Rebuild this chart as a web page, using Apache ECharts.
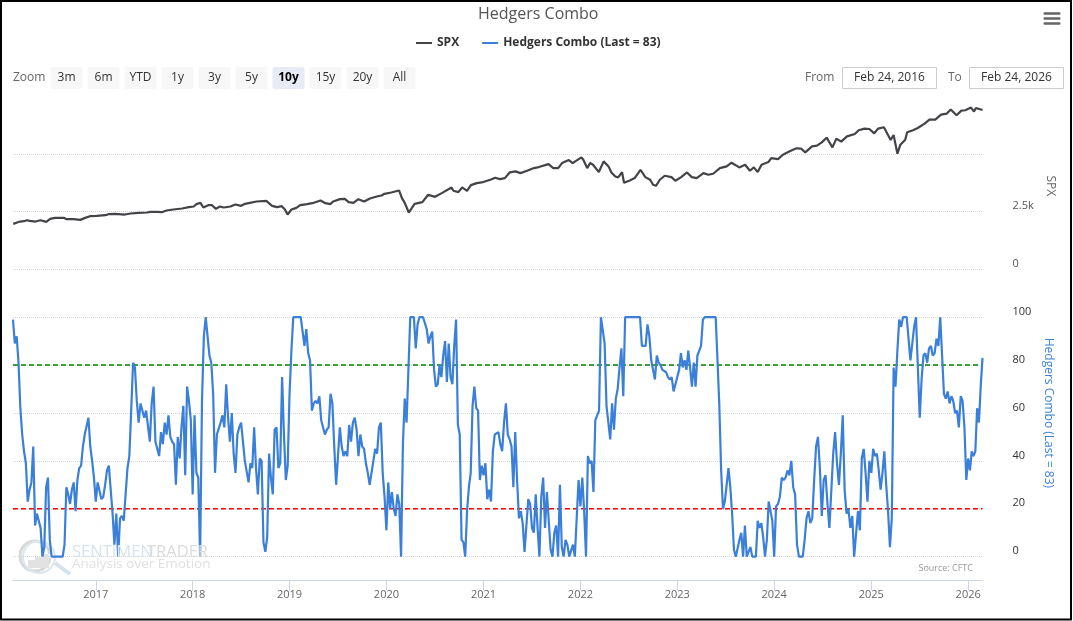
<!DOCTYPE html>
<html>
<head>
<meta charset="utf-8">
<style>html,body{margin:0;padding:0;background:#fff}#c{width:1073px;height:621px}</style>
<script src="https://cdn.jsdelivr.net/npm/echarts@6/dist/echarts.min.js"></script>
</head>
<body>
<div id="c"></div>
<script>
// ---- data ----
const chartTitle = 'Hedgers Combo';
const spxName = 'SPX';
const combo = 'Hedgers Combo (Last = 83)';
const firstDay = '2016-02-24';
const lastDay = '2026-02-24';
const yearTicks = [2017, 2018, 2019, 2020, 2021, 2022, 2023, 2024, 2025, 2026];
const comboTicks = [0, 20, 40, 60, 80, 100];
const spxGrid = [0, 2500, 5000];
const spxTicks = [0, 2500];
const upperZone = 80;
const lowerZone = 20;
const zoomButtons = ['3m', '6m', 'YTD', '1y', '3y', '5y', '10y', '15y', '20y', 'All'];

// weekly Hedgers Combo readings, one list per calendar year
const h2016 = [99,89,92,81,62,51,44,39,23,28,31,46,13,18,18,12,0,4,29,33,7,0,0,0,0,0,0,0,5,29,26,22,28,31,19,32,37,38,46,51,51,58,46,40,33];
const h2017 = [23,31,31,24,25,30,36,38,28,18,5,18,0,16,17,15,15,37,42,61,81,79,65,56,64,64,58,61,61,48,64,71,48,48,42,52,47,56,51,59,50,48,47,30,50,41,54,63,34,71,65,57];
const h2018 = [26,59,35,33,0,65,92,100,92,84,81,68,35,51,51,56,59,54,72,58,48,60,43,35,51,54,56,56,40,40,31,39,37,54,37,26,41,40,6,2,8,43,33,26,53,54,37,39,75,51,32,38];
const h2019 = [68,86,100,100,100,100,100,100,88,95,85,82,61,64,65,64,67,57,57,51,53,54,68,64,46,30,42,54,46,42,44,42,55,48,56,58,53,42,51,46,45,39,35,30,35,35,45,43,54,56,35,25];
const h2020 = [11,31,20,27,20,17,26,22,0,47,66,56,56,100,100,100,87,97,100,100,100,100,95,89,92,94,78,71,72,80,75,84,90,73,89,75,72,88,99,55,51,7,6,0,19,29,35,63,71,62,61,32,38];
const h2021 = [34,39,24,28,23,44,51,51,52,47,44,56,64,51,49,46,29,52,32,16,19,14,2,2,24,22,12,10,26,12,0,25,33,12,27,27,3,0,10,13,0,30,4,0,7,5,0,0,5,0,16,32];
const h2022 = [21,33,19,0,42,39,40,27,57,57,61,100,100,89,63,63,49,64,53,66,70,79,87,67,100,100,100,100,100,100,100,100,100,88,88,88,97,92,82,82,74,84,81,80,78,78,77,75,74,75,69,72];
const h2023 = [72,78,85,79,82,78,86,79,71,81,71,84,86,88,99,100,100,100,100,100,100,100,82,63,36,20,23,23,37,29,18,3,0,0,7,10,0,13,0,0,4,0,0,0,15,12,14,8,0,7,23,19,15];
const h2024 = [0,21,22,25,33,32,33,36,34,40,29,26,5,0,0,0,7,16,19,14,16,32,46,50,37,17,32,34,22,12,12,43,52,39,30,43,59,28,18,20,12,17,0,0,19,11,41,45,35,23,40];
const h2025 = [35,45,42,43,36,28,35,44,30,19,4,16,79,71,86,99,96,100,100,100,100,82,82,96,100,79,58,74,84,85,81,87,88,84,85,91,88,100,84,68,66,69,64,67,65,60,61,54,67,65,54,32];
const h2026 = [41,36,44,42,44,62,56,71,83];

// SPX readings: position in decimal years, and level
const spxYears = [2016.15,2016.19,2016.22,2016.26,2016.29,2016.32,2016.38,2016.43,2016.49,2016.53,2016.58,2016.67,2016.70,2016.77,2016.84,2016.89,2016.94,2017.01,2017.10,2017.13,2017.20,2017.30,2017.36,2017.44,2017.53,2017.56,2017.63,2017.68,2017.73,2017.80,2017.89,2017.96,2018.01,2018.04,2018.08,2018.11,2018.16,2018.20,2018.24,2018.28,2018.32,2018.39,2018.44,2018.50,2018.54,2018.59,2018.66,2018.76,2018.82,2018.84,2018.87,2018.92,2018.95,2018.98,2019.02,2019.07,2019.11,2019.18,2019.25,2019.32,2019.37,2019.42,2019.45,2019.52,2019.57,2019.61,2019.66,2019.71,2019.77,2019.83,2019.90,2019.95,2019.98,2020.05,2020.13,2020.16,2020.19,2020.23,2020.29,2020.31,2020.37,2020.43,2020.50,2020.57,2020.67,2020.69,2020.74,2020.78,2020.83,2020.87,2020.93,2020.98,2021.07,2021.12,2021.17,2021.22,2021.27,2021.33,2021.38,2021.45,2021.52,2021.57,2021.67,2021.72,2021.77,2021.81,2021.88,2021.92,2021.95,2022.01,2022.03,2022.07,2022.10,2022.13,2022.19,2022.24,2022.29,2022.32,2022.36,2022.39,2022.43,2022.45,2022.51,2022.56,2022.62,2022.67,2022.72,2022.75,2022.78,2022.82,2022.87,2022.94,2022.98,2023.04,2023.10,2023.15,2023.20,2023.27,2023.32,2023.37,2023.44,2023.51,2023.56,2023.64,2023.70,2023.75,2023.79,2023.83,2023.87,2023.94,2023.97,2024.04,2024.09,2024.16,2024.23,2024.28,2024.32,2024.39,2024.44,2024.49,2024.54,2024.60,2024.64,2024.69,2024.75,2024.83,2024.87,2024.93,2024.98,2025.03,2025.07,2025.13,2025.20,2025.23,2025.27,2025.30,2025.31,2025.35,2025.37,2025.43,2025.48,2025.55,2025.60,2025.66,2025.72,2025.78,2025.82,2025.88,2025.93,2025.97,2026.03,2026.06,2026.08,2026.15];
const spxLevels = [1962,2020,2063,2078,2121,2092,2063,2121,2049,2180,2223,2223,2165,2165,2136,2223,2296,2310,2339,2383,2397,2368,2412,2441,2456,2485,2485,2470,2543,2586,2630,2688,2717,2819,2877,2674,2775,2775,2615,2717,2674,2717,2804,2746,2833,2877,2935,2964,2746,2775,2688,2732,2601,2368,2586,2659,2775,2819,2877,2979,2862,2819,2935,3037,3051,2906,2877,3037,2935,3066,3153,3197,3269,3327,3415,3080,2862,2456,2833,2790,2906,3226,3138,3298,3545,3400,3342,3545,3400,3647,3734,3763,3880,3967,3909,3952,4199,4243,4170,4272,4388,4432,4562,4388,4388,4606,4737,4606,4693,4853,4751,4388,4606,4533,4214,4679,4461,4199,4025,3981,4214,3749,3850,3952,4315,3996,3880,3662,3618,3880,4054,3996,3836,3996,4199,3996,3952,4170,4097,4141,4388,4461,4621,4417,4533,4272,4417,4214,4533,4650,4824,4780,4969,5115,5245,5231,5071,5333,5362,5507,5710,5289,5667,5536,5768,5870,6030,6103,6088,5899,6103,6161,5609,5827,5013,5405,5333,5623,5943,6030,6132,6321,6495,6495,6713,6756,6931,6684,6887,6902,7018,6844,7003,6916];

// ---- assembling the series ----
const t0 = Date.parse(firstDay), t1 = Date.parse(lastDay);
const janFirst = y => Date.UTC(y, 0, 1);
const comboLists = [[2016,h2016],[2017,h2017],[2018,h2018],[2019,h2019],[2020,h2020],[2021,h2021],[2022,h2022],[2023,h2023],[2024,h2024],[2025,h2025],[2026,h2026]];
const comboData = [];
comboLists.forEach(([y, list]) => {
  const a = y === 2016 ? t0 : janFirst(y);
  const b = y === 2026 ? t1 : janFirst(y + 1);
  const n = y === 2026 ? list.length - 1 : list.length;
  list.forEach((v, j) => comboData.push([a + (b - a) * j / n, v]));
});
const spxData = spxYears.map((d, i) => {
  const y = Math.floor(d);
  const t = Math.min(t1, Math.max(t0, janFirst(y) + (d - y) * (janFirst(y + 1) - janFirst(y))));
  return [t, spxLevels[i]];
});

const FONT = '"Open Sans", sans-serif';
const g = [];
const txt = (text, x, y, o) => g.push({type:'text', x, y, silent:true, z:20, style:Object.assign({text, fill:'#333', font:'12px '+FONT, align:'center', verticalAlign:'middle'}, o||{})});
// frame
g.push({type:'rect', silent:true, z:30, shape:{x:1,y:1,width:1070,height:618.5}, style:{fill:'none', stroke:'#000', lineWidth:2}});
// menu icon
[13.5,18.5,23.5].forEach(y => g.push({type:'rect', silent:true, shape:{x:1043.5,y:y-1.25,width:17,height:2.5,r:1}, style:{fill:'#666'}}));
// range selector
txt('Zoom', 13, 77.5, {align:'left', fill:'#666'});
zoomButtons.forEach((b, i) => {
  const x = 50.5 + i * 37, on = b === '10y';
  g.push({type:'rect', silent:true, shape:{x, y:67, width:32, height:22, r:2}, style:{fill: on ? '#e6ebf5' : '#f7f7f7'}});
  txt(b, x + 16, 77.5, on ? {font:'bold 12px '+FONT, fill:'#000'} : {});
});
txt('From', 805, 77.5, {align:'left', fill:'#666'});
txt('To', 948, 77.5, {align:'left', fill:'#666'});
[[842.5,'Feb 24, 2016'],[969.5,'Feb 24, 2026']].forEach(([x, s]) => {
  g.push({type:'rect', silent:true, shape:{x, y:67.5, width:94, height:21}, style:{fill:'#fff', stroke:'#ccc', lineWidth:1}});
  txt(s, x + 47, 77.5);
});
// watermark
g.push({type:'arc', silent:true, z:0, shape:{cx:35,cy:556,r:15,startAngle:0.1,endAngle:Math.PI*1.95}, style:{fill:'none', stroke:'#d8d8d8', lineWidth:3}});
g.push({type:'line', silent:true, z:0, shape:{x1:55,y1:563,x2:70,y2:574}, style:{stroke:'#d3e2ec', lineWidth:4}});
[[28,8,8],[35,8,11],[42,8,14]].forEach(([x,w,h]) => g.push({type:'rect', silent:true, z:0, shape:{x,y:568-h,width:w-1,height:h}, style:{fill:'#e2e2e2'}}));
g.push({type:'circle', silent:true, z:0, shape:{cx:39,cy:557,r:16}, style:{fill:'none', stroke:'#dbe7ef', lineWidth:2}});
txt('SENTIMEN', 72, 552, {align:'left', font:'16.5px '+FONT, fill:'#d6e4ee'});
txt('TRADER', 208, 552, {align:'right', font:'16.5px '+FONT, fill:'#dcdcdc'});
txt('Analysis over Emotion', 72, 564.5, {align:'left', font:'13.5px '+FONT, fill:'#e0e0e0'});
txt('Source: CFTC', 973, 568.5, {align:'right', font:'9px '+FONT, fill:'#999'});

const chart = echarts.init(document.getElementById('c'), null, {renderer:'canvas'});
chart.setOption({
  animation:false,
  useUTC:true,
  backgroundColor:'#fff',
  title:{text:chartTitle, left:473, top:1, textStyle:{fontFamily:FONT, fontSize:16, fontWeight:'normal', color:'#555'}},
  legend:{data:[spxName, combo], left:416, top:37, padding:0, selectedMode:false, icon:'rect', itemWidth:16, itemHeight:2, itemGap:23, textStyle:{fontFamily:FONT, fontSize:12, fontWeight:'bold', color:'#333'}},
  grid:[
    {left:13, right:90.5, top:96.5, height:172.5},
    {left:13, right:90.5, top:317.2, height:263.4}
  ],
  xAxis:[
    {type:'value', gridIndex:0, min:t0, max:t1, show:false, splitLine:{show:false}},
    {type:'value', gridIndex:1, min:t0, max:t1,
      axisLine:{onZero:false, lineStyle:{color:'#ccd6eb'}},
      axisTick:{length:10, lineStyle:{color:'#ccd6eb'}, customValues:yearTicks.map(janFirst)},
      axisLabel:{color:'#666', fontFamily:FONT, fontSize:11, margin:9, customValues:yearTicks.map(janFirst), formatter:v => String(new Date(v).getUTCFullYear())},
      splitLine:{show:false}}
  ],
  yAxis:[
    {type:'value', gridIndex:0, position:'right', min:0, max:7500,
      name:spxName, nameLocation:'middle', nameRotate:-90, nameGap:58, nameTextStyle:{color:'#666', fontFamily:FONT, fontSize:12, padding:[0,0,0,6]},
      axisLine:{show:false},
      axisTick:{show:false, customValues:spxGrid},
      splitLine:{lineStyle:{color:'#d8d8d8', type:'dotted'}},
      axisLabel:{color:'#555', fontFamily:FONT, fontSize:11, margin:30, verticalAlign:'bottom', customValues:spxTicks, formatter:v => v >= 1000 ? v/1000 + 'k' : String(v)}},
    {type:'value', gridIndex:1, position:'right', min:-10, max:100,
      name:combo, nameLocation:'middle', nameRotate:-90, nameGap:54, nameTextStyle:{color:'#3f83d8', fontFamily:FONT, fontSize:12, padding:[0,72,0,0]},
      axisLine:{show:false},
      axisTick:{show:false, customValues:comboTicks},
      splitLine:{lineStyle:{color:'#d8d8d8', type:'dotted'}},
      axisLabel:{color:'#333', fontFamily:FONT, fontSize:11, margin:30, verticalAlign:'bottom', customValues:comboTicks}}
  ],
  series:[
    {name:spxName, type:'line', xAxisIndex:0, yAxisIndex:0, data:spxData, showSymbol:false, symbol:'none', clip:false, z:3, lineStyle:{color:'#434348', width:2.2}, itemStyle:{color:'#434348'}},
    {name:'upper zone', type:'line', xAxisIndex:1, yAxisIndex:1, data:[[t0,upperZone],[t1,upperZone]], symbol:'none', z:2, lineStyle:{color:'#008000', width:1.5, type:[5,3]}},
    {name:'lower zone', type:'line', xAxisIndex:1, yAxisIndex:1, data:[[t0,lowerZone],[t1,lowerZone]], symbol:'none', z:2, lineStyle:{color:'#ff0000', width:1.5, type:[5,3]}},
    {name:combo, type:'line', xAxisIndex:1, yAxisIndex:1, data:comboData, showSymbol:false, symbol:'none', clip:false, z:3, lineStyle:{color:'#3a7fd9', width:2.2}, itemStyle:{color:'#3a7fd9'}}
  ],
  graphic:g
});
</script>
</body>
</html>
